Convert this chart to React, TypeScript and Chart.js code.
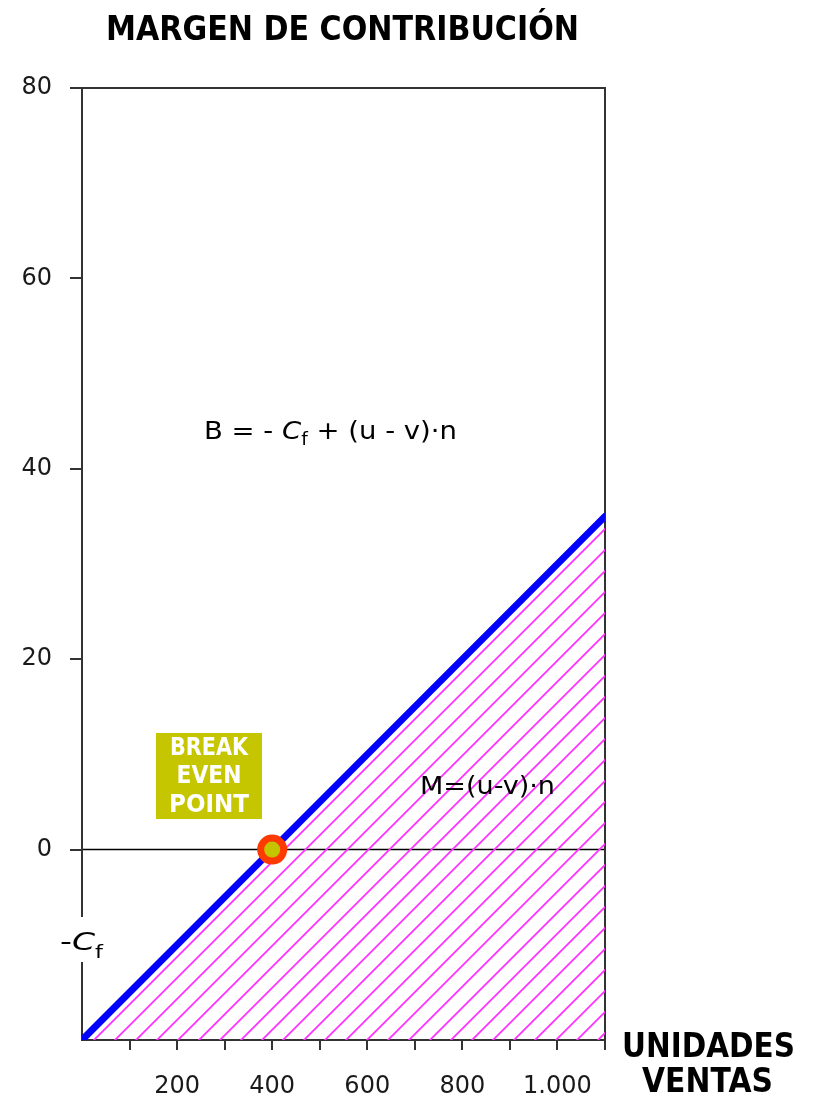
import React, { useEffect, useRef } from 'react';
import { Chart, registerables } from 'chart.js';

Chart.register(...registerables);

// ---- data ----
const units = [0, 400, 1100];
const profit = [-20, 0, 35];
const breakEvenUnits = [400];
const breakEvenProfit = [0];
const xTickValues = [0, 100, 200, 300, 400, 500, 600, 700, 800, 900, 1000, 1100];
const xLabeledValues = [200, 400, 600, 800, 1000];
const xLabelTexts = ['200', '400', '600', '800', '1.000'];
const yTickValues = [-20, 0, 20, 40, 60, 80];
const yLabelTexts = ['', '0', '20', '40', '60', '80'];

const TITLE = 'MARGEN DE CONTRIBUCIÓN';
const X_TITLE_LINES = ['UNIDADES', 'VENTAS'];
const BE_LINES = ['BREAK', 'EVEN', 'POINT'];

const FONT = "'DejaVu Sans', Verdana, sans-serif";

type Seg = { t: string; font: string; dy?: number };

function drawRich(ctx: CanvasRenderingContext2D, segs: Seg[], left: number, baseline: number, targetW: number | null, color: string) {
  ctx.save();
  let w = 0;
  for (const s of segs) {
    ctx.font = s.font;
    w += ctx.measureText(s.t).width;
  }
  const sx = targetW ? targetW / w : 1;
  ctx.translate(left, baseline);
  ctx.scale(sx, 1);
  ctx.fillStyle = color;
  ctx.textAlign = 'left';
  ctx.textBaseline = 'alphabetic';
  let cx = 0;
  for (const s of segs) {
    ctx.font = s.font;
    ctx.fillText(s.t, cx, s.dy || 0);
    cx += ctx.measureText(s.t).width;
  }
  ctx.restore();
}

const decorPlugin = {
  id: 'decor',
  beforeDatasetsDraw(chart: any) {
    const { ctx, chartArea: a, scales } = chart;
    const y0 = scales.y.getPixelForValue(0);
    ctx.save();
    // zero line
    ctx.strokeStyle = '#000';
    ctx.lineWidth = 1.5;
    ctx.beginPath();
    ctx.moveTo(a.left, y0);
    ctx.lineTo(a.right, y0);
    ctx.stroke();
    // frame
    ctx.strokeStyle = '#333';
    ctx.lineWidth = 2;
    ctx.beginPath();
    ctx.moveTo(a.left, a.top);
    ctx.lineTo(a.right, a.top);
    ctx.lineTo(a.right, a.bottom + 10);
    ctx.stroke();
    // left axis with gap for -Cf label
    ctx.beginPath();
    ctx.moveTo(a.left, a.top);
    ctx.lineTo(a.left, 917);
    ctx.moveTo(a.left, 962);
    ctx.lineTo(a.left, a.bottom);
    ctx.stroke();
    ctx.restore();
  },
  afterDatasetsDraw(chart: any) {
    const { ctx } = chart;
    // title
    drawRich(ctx, [{ t: TITLE, font: `bold 33px ${FONT}` }], 106, 40, 473, '#000');
    // x axis title
    drawRich(ctx, [{ t: X_TITLE_LINES[0], font: `bold 33px ${FONT}` }], 622, 1057, 173, '#000');
    drawRich(ctx, [{ t: X_TITLE_LINES[1], font: `bold 33px ${FONT}` }], 642, 1092, 131, '#000');
    // profit formula
    drawRich(
      ctx,
      [
        { t: 'B = - ', font: `25px ${FONT}` },
        { t: 'C', font: `italic 25px ${FONT}` },
        { t: 'f', font: `17px ${FONT}`, dy: 6 },
        { t: ' + (u - v)·n', font: `25px ${FONT}` },
      ],
      204,
      439,
      253,
      '#000'
    );
    // contribution margin formula
    drawRich(ctx, [{ t: 'M=(u-v)·n', font: `25px ${FONT}` }], 420, 794, 135, '#000');
    // -Cf
    drawRich(
      ctx,
      [
        { t: '-', font: `25px ${FONT}` },
        { t: 'C', font: `italic 25px ${FONT}` },
        { t: 'f', font: `17px ${FONT}`, dy: 8 },
      ],
      60,
      950,
      43,
      '#000'
    );
    // break-even box
    ctx.save();
    ctx.fillStyle = '#c6c600';
    ctx.fillRect(156, 733, 106, 86);
    ctx.restore();
    const baselines = [755, 783, 812];
    const widths = [78, 65, 80];
    BE_LINES.forEach((l, i) =>
      drawRich(ctx, [{ t: l, font: `bold 24px ${FONT}` }], 209 - widths[i] / 2, baselines[i], widths[i], '#fff')
    );
  },
};

function makePattern(): CanvasPattern | string {
  const s = 21;
  const c = document.createElement('canvas');
  c.width = s;
  c.height = s;
  const g = c.getContext('2d');
  if (!g) return '#ff33ff';
  g.strokeStyle = '#ff33ff';
  g.lineWidth = 1.8;
  g.beginPath();
  g.moveTo(0, s);
  g.lineTo(s, 0);
  g.moveTo(-3, 3);
  g.lineTo(3, -3);
  g.moveTo(s - 3, s + 3);
  g.lineTo(s + 3, s - 3);
  g.stroke();
  const p = g.createPattern(c, 'repeat');
  return p || '#ff33ff';
}

export default function App() {
  const ref = useRef<HTMLCanvasElement | null>(null);
  useEffect(() => {
    if (!ref.current) return;
    const pattern = makePattern();
    const chart = new Chart(ref.current, {
      type: 'line',
      data: {
        datasets: [
          {
            label: 'Break even',
            data: breakEvenUnits.map((u, i) => ({ x: u, y: breakEvenProfit[i] })),
            showLine: false,
            pointRadius: 11.5,
            pointBorderWidth: 7,
            pointBackgroundColor: '#c4c400',
            pointBorderColor: '#ff3a00',
            order: 0,
          },
          {
            label: 'Beneficio',
            data: units.map((u, i) => ({ x: u, y: profit[i] })),
            borderColor: '#0000ff',
            borderWidth: 7,
            borderCapStyle: 'round',
            pointRadius: 0,
            fill: 'start',
            backgroundColor: pattern as any,
            order: 1,
            tension: 0,
          },
        ],
      },
      options: {
        responsive: false,
        animation: false,
        events: [],
        layout: { padding: { left: 0, right: 212, top: 88, bottom: 0 } },
        plugins: {
          legend: { display: false },
          tooltip: { enabled: false },
          title: { display: false },
        },
        scales: {
          x: {
            type: 'linear',
            min: 0,
            max: 1100,
            afterFit: (s: any) => {
              s.height = 65;
            },
            afterBuildTicks: (s: any) => {
              s.ticks = xTickValues.map((v) => ({ value: v }));
            },
            ticks: {
              autoSkip: false,
              maxRotation: 0,
              padding: 22,
              color: '#1a1a1a',
              font: { family: FONT, size: 24 },
              callback: (v: any) => {
                const i = xLabeledValues.indexOf(Number(v));
                return i >= 0 ? xLabelTexts[i] : '';
              },
            },
            grid: {
              drawOnChartArea: false,
              drawTicks: true,
              tickLength: 10,
              lineWidth: 2,
              color: (c: any) => (c.tick && c.tick.value === 0 ? 'rgba(0,0,0,0)' : '#333'),
            },
            border: { display: true, color: '#333', width: 2 },
          },
          y: {
            type: 'linear',
            min: -20,
            max: 80,
            afterFit: (s: any) => {
              s.width = 82;
            },
            afterBuildTicks: (s: any) => {
              s.ticks = yTickValues.map((v) => ({ value: v }));
            },
            ticks: {
              padding: 18,
              color: '#1a1a1a',
              font: { family: FONT, size: 24 },
              callback: (v: any) => {
                const i = yTickValues.indexOf(Number(v));
                return i >= 0 ? yLabelTexts[i] : '';
              },
            },
            grid: {
              drawOnChartArea: false,
              drawTicks: true,
              tickLength: 12,
              lineWidth: 2,
              color: (c: any) => (c.tick && c.tick.value === -20 ? 'rgba(0,0,0,0)' : '#333'),
            },
            border: { display: false },
          },
        },
      },
      plugins: [decorPlugin],
    } as any);
    return () => chart.destroy();
  }, []);
  return (
    <div style={{ position: 'fixed', left: 0, top: 0, width: 817, height: 1105, background: '#fff' }}>
      <canvas ref={ref} width={817} height={1105} style={{ display: 'block' }} />
    </div>
  );
}
